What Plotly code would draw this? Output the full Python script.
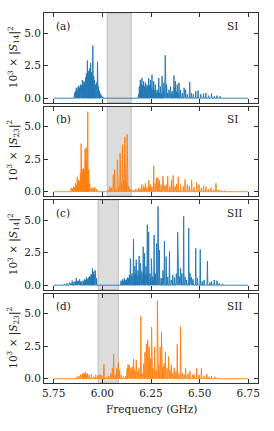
import plotly.graph_objects as go

# ---------------- data ----------------
FREQ_RANGE = [5.75, 6.75]  # sweep range (GHz)

# (a) SI  10^3 |S14|^2
A_FREQ = [5.857, 5.861, 5.866, 5.870, 5.875, 5.879, 5.883, 5.887, 5.892, 5.897, 5.901, 5.905, 5.909, 5.914,
          5.918, 5.923, 5.926, 5.930, 5.935, 5.938, 5.940, 5.944, 5.948, 5.951, 5.956, 5.960, 5.965, 5.970,
          5.975, 5.980, 5.984, 5.987, 5.991, 5.996, 6.003,
          6.186, 6.190, 6.195, 6.199, 6.203, 6.207, 6.212, 6.216, 6.221, 6.225, 6.229, 6.234, 6.238, 6.242,
          6.247, 6.251, 6.255, 6.260, 6.264, 6.268, 6.272, 6.277, 6.281, 6.286, 6.290, 6.294, 6.298, 6.303,
          6.307, 6.311, 6.316, 6.323, 6.330, 6.336, 6.342, 6.350, 6.355, 6.359, 6.368, 6.372, 6.376, 6.380,
          6.385, 6.390, 6.394, 6.402, 6.411, 6.420, 6.428, 6.437, 6.449, 6.458, 6.468, 6.480, 6.492, 6.506,
          6.520, 6.532, 6.546, 6.561, 6.575, 6.589, 6.605]
A_VAL = [0.40, 0.55, 0.80, 0.70, 0.85, 0.95, 0.80, 1.05, 1.00, 1.40, 1.10, 1.30, 1.20, 1.60,
         1.90, 2.90, 1.80, 2.10, 2.30, 1.90, 2.70, 2.00, 1.70, 4.05, 1.70, 1.40, 1.05, 1.20,
         2.80, 0.90, 0.60, 0.40, 0.30, 0.20, 0.10,
         0.30, 0.90, 1.40, 1.10, 1.55, 1.00, 1.30, 0.90, 1.20, 0.80, 1.05, 0.90, 1.55, 1.00,
         1.40, 0.80, 1.80, 0.70, 1.30, 0.60, 1.05, 0.40, 0.65, 0.50, 1.55, 0.40, 0.90, 0.30,
         1.70, 0.50, 1.20, 3.30, 1.05, 0.40, 0.65, 0.90, 0.35, 0.55, 1.75, 0.80, 1.30, 0.50,
         1.05, 0.40, 1.20, 0.65, 0.40, 0.80, 0.65, 0.30, 1.25, 0.40, 0.30, 0.55, 0.60, 0.30,
         0.35, 0.40, 0.20, 0.35, 0.15, 0.20, 0.15]

# (b) SI  10^3 |S23|^2
B_FREQ = [5.840, 5.846, 5.852, 5.857, 5.862, 5.867, 5.871, 5.875, 5.878, 5.883, 5.887, 5.891, 5.895, 5.899,
          5.904, 5.907, 5.911, 5.914, 5.917, 5.920, 5.925, 5.930, 5.935, 5.942, 5.949, 5.955, 5.961, 5.970,
          6.032, 6.039, 6.048, 6.056, 6.063, 6.072, 6.077, 6.084, 6.091, 6.098, 6.103, 6.110, 6.115, 6.122,
          6.127, 6.134, 6.142,
          6.151, 6.160, 6.169, 6.178, 6.186, 6.195, 6.203, 6.212, 6.217, 6.221, 6.229, 6.238, 6.243, 6.247,
          6.255, 6.264, 6.271, 6.278, 6.285, 6.293, 6.302, 6.311, 6.319, 6.328, 6.336, 6.347, 6.355, 6.364,
          6.373, 6.381, 6.390, 6.402, 6.416, 6.425, 6.437, 6.447, 6.459, 6.471, 6.485, 6.497, 6.509, 6.520,
          6.532, 6.544, 6.558, 6.572, 6.584, 6.596, 6.610, 6.627]
B_VAL = [0.30, 0.25, 0.40, 0.35, 0.65, 0.50, 1.15, 0.70, 0.90, 0.80, 1.40, 3.70, 1.70, 1.75,
         1.80, 1.50, 3.30, 2.45, 3.40, 2.00, 6.15, 1.70, 0.65, 0.25, 0.30, 0.20, 0.35, 0.20,
         0.15, 0.40, 0.30, 1.30, 1.70, 0.15, 2.45, 0.40, 2.95, 0.65, 3.60, 0.90, 4.20, 0.80,
         4.40, 0.40, 0.20,
         0.15, 0.10, 0.20, 0.15, 0.30, 0.25, 0.55, 0.40, 0.30, 0.65, 0.30, 0.90, 0.40, 0.55,
         0.35, 2.00, 0.65, 1.05, 1.10, 0.90, 0.55, 1.20, 0.45, 0.55, 1.20, 0.40, 0.90, 1.25,
         0.40, 0.60, 1.15, 0.55, 0.40, 0.95, 0.55, 0.45, 0.90, 0.35, 0.70, 0.55, 0.30, 0.45,
         0.40, 0.20, 0.30, 0.15, 0.65, 0.15, 0.10, 0.10]

# (c) SII  10^3 |S14|^2
C_FREQ = [5.805, 5.818, 5.831, 5.838, 5.845, 5.854, 5.860, 5.866, 5.871, 5.875, 5.883, 5.888, 5.892, 5.901,
          5.905, 5.909, 5.914, 5.918, 5.922, 5.926, 5.930, 5.935, 5.939, 5.942, 5.946, 5.949, 5.952, 5.956,
          5.959, 5.963, 5.970,
          6.096, 6.101, 6.105, 6.109, 6.113, 6.118, 6.122, 6.127, 6.131, 6.135, 6.139, 6.144, 6.149, 6.153,
          6.160, 6.164, 6.167, 6.171, 6.174, 6.179, 6.183, 6.189, 6.193, 6.196, 6.203, 6.210, 6.213, 6.217,
          6.221, 6.224, 6.231, 6.234, 6.238, 6.245, 6.249, 6.252, 6.259, 6.266, 6.270, 6.274, 6.279, 6.286,
          6.293, 6.302, 6.307, 6.311, 6.319, 6.328, 6.336, 6.345, 6.354, 6.362, 6.371, 6.380, 6.387, 6.395,
          6.402, 6.409, 6.418, 6.425, 6.433, 6.444, 6.450, 6.458, 6.466, 6.480, 6.489, 6.503, 6.513, 6.523,
          6.540, 6.553, 6.561, 6.575, 6.589, 6.601, 6.618]
C_VAL = [0.10, 0.15, 0.20, 0.15, 0.35, 0.25, 0.30, 0.55, 0.30, 0.35, 0.45, 0.25, 0.30, 0.35,
         0.30, 0.45, 0.40, 0.60, 0.45, 0.50, 0.60, 0.70, 0.65, 0.85, 0.80, 1.30, 0.90, 1.05,
         0.80, 1.15, 0.55,
         0.35, 0.25, 0.45, 0.30, 0.55, 0.35, 0.40, 0.50, 0.60, 0.50, 0.80, 2.05, 0.70, 0.90,
         3.55, 0.80, 1.45, 0.90, 1.95, 0.70, 1.15, 2.25, 0.90, 1.70, 1.05, 2.95, 0.90, 2.45,
         0.80, 1.45, 4.65, 0.80, 4.10, 0.90, 0.60, 2.05, 0.65, 3.85, 0.80, 0.90, 3.20, 6.05,
         2.70, 0.55, 0.50, 1.15, 3.40, 2.20, 0.65, 2.60, 0.40, 0.80, 0.60, 0.90, 4.10, 0.65,
         1.30, 0.90, 5.30, 0.65, 0.40, 4.40, 0.95, 0.60, 0.45, 2.85, 0.55, 2.75, 0.30, 0.40,
         1.85, 0.20, 0.30, 0.40, 0.35, 0.15, 0.10]

# (d) SII  10^3 |S23|^2
D_FREQ = [5.869, 5.880, 5.888, 5.897, 5.902, 5.906, 5.910, 5.914, 5.918, 5.923, 5.932, 5.944, 5.956, 5.966,
          5.978, 5.987, 5.997, 6.008, 6.018, 6.030, 6.044, 6.051, 6.058, 6.067, 6.074, 6.082, 6.089, 6.098,
          6.108, 6.119, 6.127, 6.132, 6.139, 6.146, 6.153, 6.160, 6.167, 6.174, 6.181, 6.188, 6.198, 6.205,
          6.212, 6.219, 6.226, 6.233, 6.240, 6.247, 6.253, 6.260, 6.269, 6.276, 6.283, 6.290, 6.297, 6.304,
          6.311, 6.317, 6.324, 6.333, 6.340, 6.347, 6.354, 6.361, 6.369, 6.378, 6.385, 6.394, 6.402, 6.411,
          6.420, 6.428, 6.440, 6.450, 6.463, 6.471, 6.485, 6.497, 6.509, 6.523, 6.537, 6.549, 6.561, 6.579,
          6.592]
D_VAL = [0.15, 0.20, 0.30, 0.40, 0.30, 0.45, 0.35, 0.50, 0.30, 0.40, 0.30, 0.35, 0.15, 0.30,
         0.25, 0.35, 0.25, 1.10, 0.10, 0.20, 0.40, 0.80, 1.90, 0.30, 0.80, 1.25, 0.65, 0.30,
         0.15, 0.20, 0.80, 1.10, 1.05, 0.80, 0.90, 1.50, 0.65, 1.45, 0.55, 0.80, 4.80, 0.40,
         1.15, 2.05, 2.65, 3.00, 2.45, 1.55, 3.95, 0.80, 2.45, 0.65, 6.00, 1.05, 2.45, 3.60,
         0.90, 1.15, 2.05, 0.80, 1.70, 0.65, 1.05, 0.40, 0.85, 0.55, 2.65, 0.40, 4.00, 0.45,
         0.30, 0.80, 0.40, 0.60, 0.30, 0.35, 0.80, 0.30, 0.80, 0.20, 0.35, 0.15, 0.20, 0.15,
         0.10]

SHADE_SI = [6.025, 6.148]
SHADE_SII = [5.978, 6.082]

PANEL_LABELS = ["(a)", "(b)", "(c)", "(d)"]
SAMPLE_LABELS = ["SI", "SI", "SII", "SII"]
Y_TITLES = ["10<sup>3</sup> × |<i>S</i><sub>14</sub>|<sup>2</sup>",
            "10<sup>3</sup> × |<i>S</i><sub>23</sub>|<sup>2</sup>",
            "10<sup>3</sup> × |<i>S</i><sub>14</sub>|<sup>2</sup>",
            "10<sup>3</sup> × |<i>S</i><sub>23</sub>|<sup>2</sup>"]
X_TICKS = [5.75, 6.00, 6.25, 6.50, 6.75]
X_TICK_TEXT = ["5.75", "6.00", "6.25", "6.50", "6.75"]
Y_TICKS = [0.0, 2.5, 5.0]
Y_TICK_TEXT = ["0.0", "2.5", "5.0"]
X_TITLE = "Frequency (GHz)"

# ---------------- styling ----------------
BLUE = "#1f77b4"
ORANGE = "#ff7f0e"
BLUE_FILL = "rgba(31,119,180,0.35)"
ORANGE_FILL = "rgba(255,127,14,0.35)"
HALF_WIDTH = 0.0021
FONT = "DejaVu Serif"
FS = 10.5
FRAME = "#333333"

W, H = 274, 431
ML, MR, MT, MB = 44, 16, 13, 48
PH = (H - MT - MB)
PANEL_H = 89.5
GAP = 4.0


def spike_line(freqs, vals):
    xs = [FREQ_RANGE[0]]
    ys = [0.0]
    for f, v in sorted(zip(freqs, vals)):
        xs += [f - HALF_WIDTH, f, f + HALF_WIDTH]
        ys += [0.0, v, 0.0]
    xs.append(FREQ_RANGE[1])
    ys.append(0.0)
    return xs, ys


series = [(A_FREQ, A_VAL, BLUE, BLUE_FILL, SHADE_SI),
          (B_FREQ, B_VAL, ORANGE, ORANGE_FILL, SHADE_SI),
          (C_FREQ, C_VAL, BLUE, BLUE_FILL, SHADE_SII),
          (D_FREQ, D_VAL, ORANGE, ORANGE_FILL, SHADE_SII)]

fig = go.Figure()
layout = dict(
    template="none",
    width=W, height=H,
    margin=dict(l=ML, r=MR, t=MT, b=MB, pad=0, autoexpand=False),
    paper_bgcolor="white", plot_bgcolor="white",
    showlegend=False,
    font=dict(family=FONT, size=FS, color="#222222"),
)
shapes = []
annotations = []

for i, (fq, vl, col, fcol, shade) in enumerate(series):
    n = i + 1
    xs, ys = spike_line(fq, vl)
    xa = "x" if n == 1 else f"x{n}"
    ya = "y" if n == 1 else f"y{n}"
    fig.add_trace(go.Scatter(x=xs, y=ys, mode="lines", xaxis=xa, yaxis=ya,
                             line=dict(color=col, width=0.9), fill="tozeroy",
                             fillcolor=fcol, hoverinfo="skip"))
    top_px = MT + i * (PANEL_H + GAP)
    bot_px = top_px + PANEL_H
    dom = [(H - MB - bot_px) / PH, (H - MB - top_px) / PH]
    axis_common = dict(ticks="inside", ticklen=4, tickwidth=1, tickcolor=FRAME,
                       mirror="allticks", showline=True, linecolor=FRAME, linewidth=1,
                       showgrid=False, zeroline=False, automargin=False,
                       tickfont=dict(family=FONT, size=FS, color="#222222"))
    layout["xaxis" if n == 1 else f"xaxis{n}"] = dict(
        domain=[0, 1], anchor=ya, range=[5.70, 6.80], tickvals=X_TICKS,
        ticktext=X_TICK_TEXT, showticklabels=(n == 4), **axis_common)
    layout["yaxis" if n == 1 else f"yaxis{n}"] = dict(
        domain=dom, anchor=xa, range=[-0.33, 6.55], tickvals=Y_TICKS,
        ticktext=Y_TICK_TEXT, **axis_common)
    shapes.append(dict(type="rect", xref=xa, yref=f"{ya} domain", x0=shade[0], x1=shade[1],
                       y0=0, y1=1, fillcolor="#dcdcdc", line=dict(color="#bcbcbc", width=1),
                       layer="below"))
    annotations.append(dict(text=PANEL_LABELS[i], xref=f"{xa} domain", yref=f"{ya} domain",
                            x=0.049, y=1 - 12.7 / PANEL_H, xanchor="left", yanchor="middle",
                            showarrow=False, font=dict(family=FONT, size=FS)))
    annotations.append(dict(text=SAMPLE_LABELS[i], xref=f"{xa} domain", yref=f"{ya} domain",
                            x=0.846, y=1 - 12.7 / PANEL_H, xanchor="left", yanchor="middle",
                            showarrow=False, font=dict(family=FONT, size=FS)))
    annotations.append(dict(text=Y_TITLES[i], xref="paper", yref="paper",
                            x=(13.5 - ML) / (W - ML - MR), y=(dom[0] + dom[1]) / 2,
                            xanchor="center", yanchor="middle", textangle=-90,
                            showarrow=False, font=dict(family=FONT, size=FS)))

annotations.append(dict(text=X_TITLE, xref="paper", yref="paper", x=0.5,
                        y=(H - MB - 409) / PH, xanchor="center", yanchor="middle",
                        showarrow=False, font=dict(family=FONT, size=FS)))

layout["shapes"] = shapes
layout["annotations"] = annotations
fig.update_layout(**layout)
fig.write_html("out.html", config={"displayModeBar": False, "staticPlot": True},
               post_script="document.body.style.margin='0';document.body.style.overflow='hidden';")
